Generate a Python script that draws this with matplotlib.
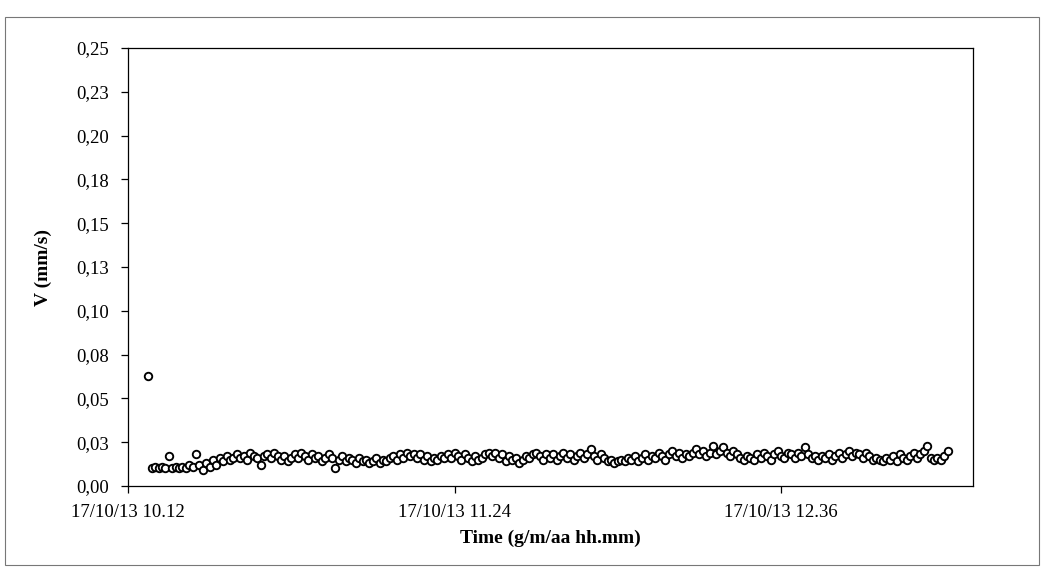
import datetime as dt
import matplotlib
matplotlib.use('Agg')
import matplotlib.pyplot as plt
import matplotlib.dates as mdates
from matplotlib.patches import Rectangle


# readings every 45 s, starting 17/10/13 10:16:30
start_time = dt.datetime(2013, 10, 17, 10, 16, 30)
step_seconds = 45
velocity = [
    0.063,
    0.010, 0.011, 0.010, 0.011, 0.010, 0.017, 0.010, 0.011, 0.010, 0.011,
    0.010, 0.012, 0.011, 0.018, 0.012,
    0.009, 0.013, 0.011, 0.015, 0.012, 0.016, 0.014, 0.017, 0.015, 0.016,
    0.018, 0.016, 0.017, 0.015, 0.019, 0.017, 0.016, 0.012, 0.017, 0.018,
    0.016, 0.019, 0.017,
    0.015, 0.017, 0.014, 0.016, 0.018, 0.016, 0.019, 0.017, 0.015, 0.018,
    0.016, 0.017, 0.014, 0.016, 0.018, 0.016, 0.010, 0.015, 0.017, 0.014,
    0.016, 0.015, 0.013, 0.016, 0.014, 0.015, 0.013, 0.014, 0.016, 0.013,
    0.015, 0.014, 0.016, 0.017, 0.015, 0.018, 0.016, 0.019, 0.017, 0.018,
    0.016, 0.018, 0.015, 0.017, 0.014, 0.016, 0.015, 0.017, 0.016, 0.018,
    0.016, 0.019, 0.017, 0.015, 0.018, 0.016, 0.014, 0.017, 0.015, 0.016,
    0.018, 0.019, 0.017, 0.019, 0.016, 0.018, 0.014, 0.017, 0.015, 0.016,
    0.013, 0.015, 0.017, 0.016, 0.018, 0.019, 0.017, 0.015, 0.018, 0.016,
    0.018, 0.015, 0.017, 0.019, 0.016, 0.018, 0.015, 0.017, 0.019, 0.016,
    0.018, 0.021, 0.017, 0.015, 0.018, 0.016, 0.014, 0.015, 0.013, 0.014,
    0.015, 0.014, 0.016, 0.015, 0.017, 0.014, 0.016, 0.018, 0.015, 0.017,
    0.016, 0.019, 0.017, 0.015, 0.018, 0.020, 0.017, 0.019, 0.016, 0.018,
    0.017, 0.019, 0.021, 0.018, 0.020, 0.017, 0.019, 0.023, 0.018, 0.020,
    0.022, 0.019, 0.017, 0.020, 0.018, 0.016, 0.015, 0.017, 0.016, 0.015,
    0.018, 0.016, 0.019, 0.017, 0.015, 0.018, 0.020, 0.017, 0.016, 0.019,
    0.018, 0.016, 0.019, 0.017, 0.022, 0.018, 0.016, 0.017, 0.015,
    0.017, 0.016, 0.018, 0.015, 0.017, 0.019, 0.016, 0.018, 0.020, 0.017,
    0.019, 0.018, 0.016, 0.019, 0.017, 0.015, 0.016, 0.015, 0.014, 0.016,
    0.015, 0.017, 0.014, 0.018, 0.016, 0.015, 0.017, 0.019, 0.016, 0.018,
    0.020, 0.023, 0.016, 0.015, 0.016, 0.015, 0.017, 0.020,
]
times = [start_time + dt.timedelta(seconds=step_seconds * i) for i in range(len(velocity))]

x_ticks = [dt.datetime(2013, 10, 17, 10, 12), dt.datetime(2013, 10, 17, 11, 24),
           dt.datetime(2013, 10, 17, 12, 36)]
x_limits = (dt.datetime(2013, 10, 17, 10, 12), dt.datetime(2013, 10, 17, 13, 18, 20))
y_ticks = [0.0, 0.025, 0.05, 0.075, 0.10, 0.125, 0.15, 0.175, 0.20, 0.225, 0.25]
y_tick_labels = ['0,00', '0,03', '0,05', '0,08', '0,10', '0,13', '0,15', '0,18', '0,20', '0,23', '0,25']

plt.rcParams['font.family'] = ['Liberation Serif', 'DejaVu Serif']

fig = plt.figure(figsize=(10.43, 5.69), dpi=100)
fig.patches.append(Rectangle((0.005, 0.007), 0.991, 0.963, transform=fig.transFigure,
                             fill=False, edgecolor='#777777', linewidth=0.8))
ax = fig.add_axes([0.1227, 0.1459, 0.8102, 0.7697])

ax.plot(times, velocity, linestyle='none', marker='o', markersize=5.4,
        markerfacecolor='white', markeredgecolor='black', markeredgewidth=1.35)

ax.set_xlim(*x_limits)
ax.set_ylim(0, 0.25)
ax.set_xticks(x_ticks)
ax.xaxis.set_major_formatter(mdates.DateFormatter('%d/%m/%y %H.%M'))
ax.set_yticks(y_ticks)
ax.set_yticklabels(y_tick_labels)
ax.tick_params(axis='both', direction='out', length=5, width=0.9, labelsize=13.5)
ax.tick_params(axis='y', pad=9)
ax.tick_params(axis='x', pad=8)
for side in ax.spines.values():
    side.set_linewidth(0.9)

ax.set_xlabel('Time (g/m/aa hh.mm)', fontsize=14, fontweight='bold', labelpad=6)
ax.set_ylabel('V (mm/s)', fontsize=14, fontweight='bold', labelpad=17)

fig.savefig('out.png', dpi=100)
